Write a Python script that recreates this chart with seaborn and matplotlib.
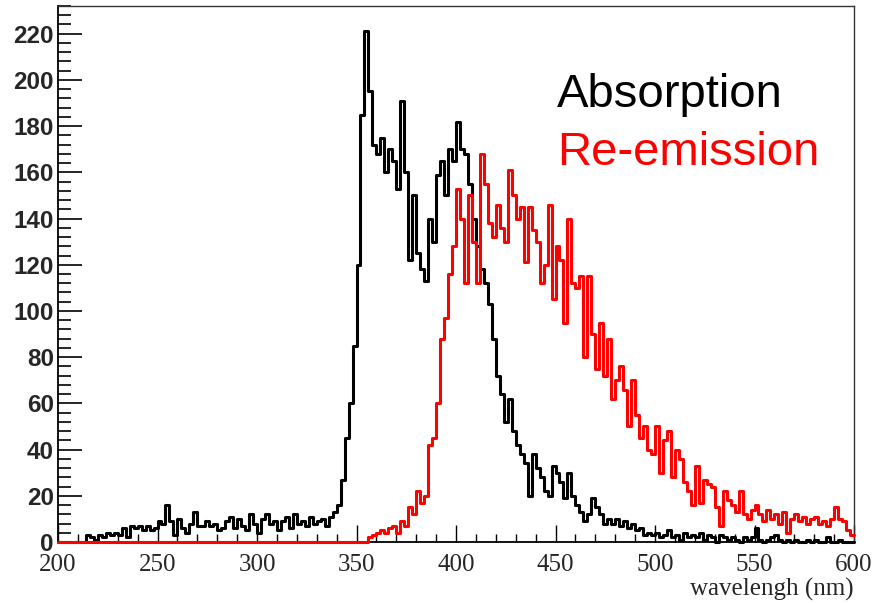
import numpy as np
import pandas as pd
import matplotlib
matplotlib.use("Agg")
import matplotlib.pyplot as plt
import seaborn as sns
from matplotlib.ticker import MultipleLocator

# ---- data (2 nm bins from 200 to 600 nm) ----
bin_start = 200
bin_width = 2
n_bins = 200

absorption = [
    0, 0, 0, 0, 0, 0, 0, 3, 2, 1,            # 200-218
    3, 2, 4, 3, 4, 3, 6, 2, 7, 6,            # 220-238
    7, 5, 7, 5, 6, 9, 8, 16, 9, 3,           # 240-258
    10, 6, 4, 8, 13, 7, 7, 9, 7, 8,          # 260-278
    5, 6, 9, 11, 6, 10, 7, 5, 12, 8,         # 280-298
    4, 10, 12, 8, 9, 5, 9, 11, 6, 12,        # 300-318
    8, 9, 7, 11, 8, 9, 10, 7, 11, 13,        # 320-338
    16, 27, 45, 60, 85, 120, 185, 221, 195, 172,   # 340-358
    168, 175, 160, 170, 165, 153, 191, 160, 122, 150,  # 360-378
    125, 118, 113, 140, 130, 159, 165, 150, 170, 165,  # 380-398
    182, 170, 168, 155, 140, 128, 118, 112, 103, 88,   # 400-418
    72, 64, 52, 62, 48, 42, 38, 34, 20, 38,  # 420-438
    32, 28, 22, 20, 33, 30, 26, 19, 30, 20,  # 440-458
    16, 13, 9, 12, 19, 15, 12, 8, 10, 8,     # 460-478
    10, 7, 9, 6, 8, 5, 6, 3, 4, 3,           # 480-498
    4, 2, 3, 5, 2, 3, 1, 4, 2, 3,            # 500-518
    2, 4, 1, 3, 2, 0, 3, 2, 1, 2,            # 520-538
    1, 0, 2, 1, 2, 6, 1, 0, 1, 2,            # 540-558
    3, 1, 0, 1, 0, 1, 0, 0, 1, 0,            # 560-578
    1, 0, 0, 2, 0, 0, 1, 0, 0, 0,            # 580-598
]

reemission = [
    0, 0, 0, 0, 0, 0, 0, 0, 0, 0,            # 200-218
    0, 0, 0, 0, 0, 0, 0, 0, 0, 0,            # 220-238
    0, 0, 0, 0, 0, 0, 0, 0, 0, 0,            # 240-258
    0, 0, 0, 0, 0, 0, 0, 0, 0, 0,            # 260-278
    0, 0, 0, 0, 0, 0, 0, 0, 0, 0,            # 280-298
    0, 0, 0, 0, 0, 0, 0, 0, 0, 0,            # 300-318
    0, 0, 0, 0, 0, 0, 0, 0, 0, 0,            # 320-338
    0, 0, 0, 0, 0, 0, 0, 0, 2, 3,            # 340-358
    4, 5, 4, 6, 7, 4, 9, 7, 15, 12,          # 360-378
    22, 17, 20, 42, 45, 60, 88, 97, 116, 128,          # 380-398
    153, 140, 112, 150, 130, 112, 168, 155, 138, 132,  # 400-418
    146, 136, 130, 161, 150, 140, 145, 121, 145, 135,  # 420-438
    130, 112, 120, 146, 105, 128, 122, 95, 140, 112,   # 440-458
    110, 115, 80, 115, 90, 75, 95, 72, 88, 62,         # 460-478
    70, 76, 66, 50, 70, 55, 45, 50, 40, 38,  # 480-498
    50, 30, 44, 48, 28, 40, 36, 26, 22, 16,  # 500-518
    33, 17, 27, 25, 24, 15, 7, 22, 18, 16,   # 520-538
    13, 22, 12, 10, 14, 16, 12, 9, 14, 10,   # 540-558
    12, 8, 13, 4, 10, 12, 9, 11, 8, 10,      # 560-578
    11, 8, 9, 7, 10, 15, 10, 9, 5, 3,        # 580-598
]

y_ticks = [0, 20, 40, 60, 80, 100, 120, 140, 160, 180, 200, 220]
x_ticks = [200, 250, 300, 350, 400, 450, 500, 550, 600]
labels = ["Absorption", "Re-emission"]
x_title = "wavelengh (nm)"

assert len(absorption) == n_bins and len(reemission) == n_bins

centers = bin_start + bin_width * np.arange(n_bins) + bin_width / 2
df = pd.DataFrame({"wavelength": centers,
                   "absorption": absorption,
                   "reemission": reemission})
brange = (bin_start, bin_start + bin_width * n_bins)

# ---- figure ----
sns.set_style("white")
plt.rcParams["font.family"] = ["Liberation Sans", "DejaVu Sans"]

W, H = 873, 603
fig = plt.figure(figsize=(W / 100, H / 100), dpi=100)
ax = fig.add_axes([58 / W, 1 - 542 / H, (854 - 58) / W, (542 - 6) / H])

sns.histplot(data=df, x="wavelength", weights="absorption",
             binwidth=bin_width, binrange=brange,
             element="step", fill=False, color="black", linewidth=2.2,
             zorder=3, clip_on=False, ax=ax)
sns.histplot(data=df, x="wavelength", weights="reemission",
             binwidth=bin_width, binrange=brange,
             element="step", fill=False, color="#ff0000", linewidth=2.2,
             zorder=3.5, clip_on=False, ax=ax)

ax.set_xlim(200, 600)
ax.set_ylim(0, 232)

ax.set_yticks(y_ticks)
ax.set_yticklabels([str(v) for v in y_ticks], fontfamily="Liberation Sans",
                   fontweight="bold", fontsize=17.5)
ax.set_xticks(x_ticks)
ax.set_xticklabels([str(v) for v in x_ticks], fontfamily="Liberation Serif",
                   fontsize=18)
ax.yaxis.set_minor_locator(MultipleLocator(4))
ax.xaxis.set_minor_locator(MultipleLocator(10))

ax.tick_params(which="both", direction="in", top=False, right=False,
               bottom=True, left=True, color="black")
ax.tick_params(axis="y", which="major", length=17, width=1.2, pad=3)
ax.tick_params(axis="y", which="minor", length=9, width=1.2)
ax.tick_params(axis="x", which="major", length=12, width=1.0, pad=8.5)
ax.tick_params(axis="x", which="minor", length=6, width=1.0)

for side in ["left", "bottom"]:
    ax.spines[side].set_color("black")
    ax.spines[side].set_linewidth(1.3)
for side in ["top", "right"]:
    ax.spines[side].set_color("#333333")
    ax.spines[side].set_linewidth(1.0)

ax.set_ylabel("")
ax.set_xlabel(x_title, fontfamily="Liberation Serif", fontsize=18,
              ha="right", va="center")
ax.xaxis.set_label_coords(1.0, -0.088)

fig.text(557 / W, 1 - 107 / H, labels[0], fontsize=34, color="black",
         family="Liberation Sans", va="baseline", ha="left")
fig.text(557 / W, 1 - 165 / H, labels[1], fontsize=34, color="#ff0000",
         family="Liberation Sans", va="baseline", ha="left")

fig.savefig("out.png", dpi=100)
